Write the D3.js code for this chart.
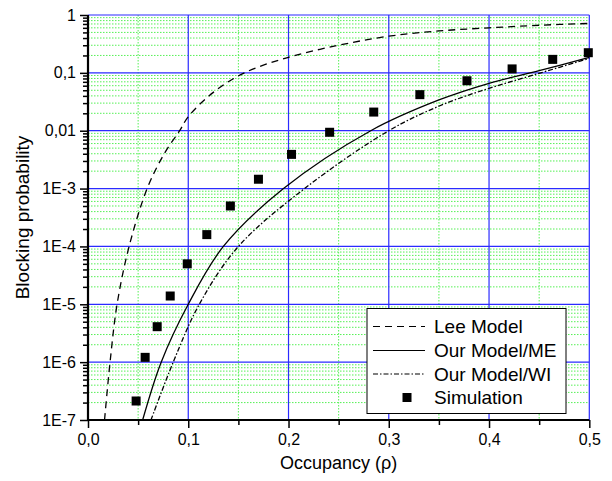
<!DOCTYPE html>
<html><head><meta charset="utf-8">
<script src="https://cdn.jsdelivr.net/npm/d3@7"></script>
<style>body{margin:0;background:#fff}svg{display:block}</style>
</head><body>
<svg id="c" width="612" height="481"></svg>
<script>
// Data
const leeModel = [[0.0165,1e-7],[0.022,1e-6],[0.029,1e-5],[0.041,1e-4],[0.059,1e-3],[0.076,4e-3],[0.0914,0.01],[0.1,0.0175],[0.125,0.046],[0.156,0.1],[0.2,0.186],[0.25,0.3],[0.3,0.43],[0.35,0.53],[0.4,0.60],[0.45,0.665],[0.5,0.715]];
const ourModelME = [[0.0545,1e-7],[0.073,1e-6],[0.1,1e-5],[0.135,1e-4],[0.195,1e-3],[0.282,0.01],[0.35,0.034],[0.4,0.066],[0.45,0.109],[0.5,0.185]];
const ourModelWI = [[0.0628,1e-7],[0.085,1e-6],[0.111,1e-5],[0.150,1e-4],[0.216,1e-3],[0.3,0.01],[0.351,0.027],[0.4,0.054],[0.45,0.098],[0.5,0.178]];
const simulation = [[0.048,2.13e-7],[0.057,1.21e-6],[0.069,4.1e-6],[0.082,1.39e-5],[0.099,5.0e-5],[0.1185,1.6e-4],[0.142,5.0e-4],[0.170,1.45e-3],[0.203,3.9e-3],[0.241,9.4e-3],[0.285,2.1e-2],[0.331,4.2e-2],[0.378,7.3e-2],[0.423,0.117],[0.4635,0.171],[0.499,0.223]];
const xTicks = [0,0.1,0.2,0.3,0.4,0.5];
const xMinorTicks = [0.05,0.15,0.25,0.35,0.45];
const yTicks = [1e-7,1e-6,1e-5,1e-4,1e-3,1e-2,1e-1,1];
const yTickLabels = ["1E-7","1E-6","1E-5","1E-4","1E-3","0,01","0,1","1"];
const legendLabels = ["Lee Model","Our Model/ME","Our Model/WI","Simulation"];

const svg = d3.select("#c");
const L=88, R=589.3, T=15, B=420;
const x = d3.scaleLinear().domain([0,0.5]).range([L,R]);
const y = d3.scaleLog().domain([1e-7,1]).range([B,T]);
const yMinor = [];
for (let k=-7;k<0;k++) for (let m=2;m<=9;m++) yMinor.push(m*Math.pow(10,k));

// minor grid
const g = svg.append("g");
g.selectAll(".hm").data(yMinor).join("line")
  .attr("x1",L).attr("x2",R).attr("y1",d=>y(d)).attr("y2",d=>y(d))
  .attr("stroke","#55f055").attr("stroke-width",1).attr("stroke-dasharray","1.5,1.5");
g.selectAll(".vm").data(xMinorTicks).join("line")
  .attr("y1",T).attr("y2",B).attr("x1",d=>x(d)).attr("x2",d=>x(d))
  .attr("stroke","#55f055").attr("stroke-width",1).attr("stroke-dasharray","1.5,1.5");
// major grid
g.selectAll(".hM").data(yTicks).join("line")
  .attr("x1",L).attr("x2",R).attr("y1",d=>y(d)).attr("y2",d=>y(d))
  .attr("stroke","#2b2bff").attr("stroke-width",1.2);
g.selectAll(".vM").data(xTicks).join("line")
  .attr("y1",T).attr("y2",B).attr("x1",d=>x(d)).attr("x2",d=>x(d))
  .attr("stroke","#2b2bff").attr("stroke-width",1.2);

// axes
const font = "'Liberation Sans', Arial, sans-serif";
const yAx = svg.append("g").attr("transform",`translate(${L},0)`)
  .call(d3.axisLeft(y).tickValues(yTicks).tickSize(8).tickPadding(4)
    .tickFormat((d,i)=>yTickLabels[i]));
svg.append("g").attr("transform",`translate(${L},0)`)
  .call(d3.axisLeft(y).tickValues(yMinor).tickSize(5).tickFormat(""))
  .select(".domain").remove();
const xAx = svg.append("g").attr("transform",`translate(0,${B})`)
  .call(d3.axisBottom(x).tickValues(xTicks).tickSize(8).tickPadding(6)
    .tickFormat(d=>d3.format(".1f")(d).replace(".",",")));
svg.append("g").attr("transform",`translate(0,${B})`)
  .call(d3.axisBottom(x).tickValues(xMinorTicks).tickSize(5).tickFormat(""))
  .select(".domain").remove();
svg.selectAll(".tick line").attr("stroke","#000").attr("stroke-width",1.5);
svg.selectAll(".domain").attr("stroke","#000").attr("stroke-width",2.2);
[yAx,xAx].forEach(a=>a.selectAll("text").attr("font-family",font).attr("font-size",16).attr("fill","#000"));
yAx.select(".domain").attr("d",`M0,${T}V${B}`);
xAx.select(".domain").attr("d",`M${L},0H${R}`);

// curves
const line = d3.line().x(d=>x(d[0])).y(d=>y(d[1])).curve(d3.curveCatmullRom.alpha(0.5));
const styles = [
  {data:leeModel, dash:"7,5"},
  {data:ourModelME, dash:null},
  {data:ourModelWI, dash:"5,2,1.5,2"}
];
styles.forEach(s=>{
  svg.append("path").datum(s.data).attr("d",line).attr("fill","none")
    .attr("stroke","#000").attr("stroke-width",1.3)
    .attr("stroke-dasharray",s.dash);
});
// simulation squares
const S=9;
svg.selectAll(".sim").data(simulation).join("rect")
  .attr("x",d=>x(d[0])-S/2).attr("y",d=>y(d[1])-S/2)
  .attr("width",S).attr("height",S).attr("fill","#000");

// axis titles
svg.append("text").attr("x",(L+R)/2).attr("y",469).attr("text-anchor","middle")
  .attr("font-family",font).attr("font-size",18).text("Occupancy (ρ)");
svg.append("text").attr("transform",`translate(29,${(T+B)/2}) rotate(-90)`)
  .attr("text-anchor","middle").attr("font-family",font).attr("font-size",19)
  .text("Blocking probability");

// legend
const lg = svg.append("g");
lg.append("rect").attr("x",367).attr("y",308.5).attr("width",199).attr("height",105)
  .attr("fill","#fff").attr("stroke","#000").attr("stroke-width",1);
const rowsY=[326.5,350.5,374,397.5];
legendLabels.forEach((lab,i)=>{
  const yy=rowsY[i];
  if(i<3){
    lg.append("line").attr("x1",373).attr("x2",425).attr("y1",yy).attr("y2",yy)
      .attr("stroke","#000").attr("stroke-width",1.1)
      .attr("stroke-dasharray",styles[i].dash);
  } else {
    lg.append("rect").attr("x",407-4.5).attr("y",yy-4.5).attr("width",9).attr("height",9).attr("fill","#000");
  }
  lg.append("text").attr("x",434).attr("y",yy).attr("dy","0.36em")
    .attr("font-family",font).attr("font-size",19).text(lab);
});
</script>
</body></html>
